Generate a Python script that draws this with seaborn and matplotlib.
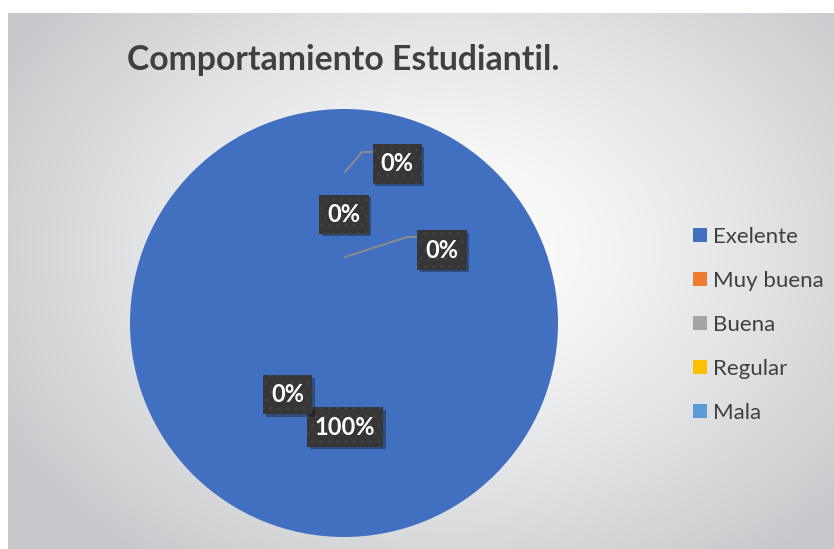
import numpy as np
import matplotlib
matplotlib.use("Agg")
import matplotlib.pyplot as plt
import seaborn as sns
from matplotlib import patheffects as pe

categories = ["Exelente", "Muy buena", "Buena", "Regular", "Mala"]
values = [100, 0, 0, 0, 0]
colors = ["#4070BF", "#ED7D31", "#A5A5A5", "#FFC000", "#5B9BD5"]
title = "Comportamiento Estudiantil."

sns.set_theme(style="white")
plt.rcParams['font.family'] = ['Lato', 'DejaVu Sans']
palette = sns.color_palette(colors)

W, H = 834, 549
fig = plt.figure(figsize=(W / 100, H / 100), dpi=100)
fig.patch.set_facecolor('white')

# background radial gradient
bg = fig.add_axes([8 / W, 0, 1 - 8 / W, (H - 13) / H])
bw, bh = W - 8, H - 13
yy, xx = np.mgrid[0:bh, 0:bw]
cx, cy = 450 - 8, 250 - 13
r = np.sqrt(((xx - cx) / 520) ** 2 + ((yy - cy) / 390) ** 2)
t = np.clip(r, 0, 1) ** 1.3
white = np.array([1.0, 1.0, 1.0])
gray = np.array([198, 200, 203]) / 255
img = white * (1 - t[..., None]) + gray * t[..., None]
bg.imshow(img, aspect='auto', extent=[0, 1, 0, 1], origin='upper')
bg.axis('off')

# pie
ax = fig.add_axes([130 / W, 12 / H, 428 / W, 428 / H])
wedges, _ = ax.pie(values, colors=palette, startangle=90, counterclock=False,
                   radius=1, wedgeprops=dict(linewidth=0))
ax.set_xlim(-1, 1)
ax.set_ylim(-1, 1)
ax.axis('off')

# data labels
label_pos = [(0.005, -0.486), (0.248, 0.743), (0.0, 0.509), (0.458, 0.341), (-0.262, -0.336)]
total = sum(values)
for v, (x, y) in zip(values, label_pos):
    txt = ax.text(x, y, f"{v / total * 100:.0f}%", ha='center', va='center',
                  color='white', fontsize=17, fontweight='bold', zorder=5,
                  bbox=dict(boxstyle='square,pad=0.34', facecolor='#363636',
                            edgecolor='#424242', hatch='..', linewidth=0))
    txt.get_bbox_patch().set_path_effects([
        pe.SimplePatchShadow(offset=(2, -2), shadow_rgbFace='black', alpha=0.3),
        pe.Normal()])

# leader lines
ax.plot([0.005, 0.084, 0.136], [0.706, 0.799, 0.799], color='#8a8a8a', lw=1.5, zorder=4)
ax.plot([0.005, 0.294, 0.350], [0.308, 0.402, 0.402], color='#8a8a8a', lw=1.5, zorder=4)

fig.text(127 / W, 1 - 60 / H, title, fontsize=24.3, fontweight='bold',
         color='#404040', va='center', ha='left')

fig.legend(wedges, categories, loc='upper left', bbox_to_anchor=(693 / W, 1 - 227 / H),
           frameon=False, fontsize=16, labelspacing=1.08, handlelength=0.62,
           handleheight=0.62, handletextpad=0.3, labelcolor='#404040',
           borderaxespad=0, borderpad=0)

fig.savefig("out.png", dpi=100)
